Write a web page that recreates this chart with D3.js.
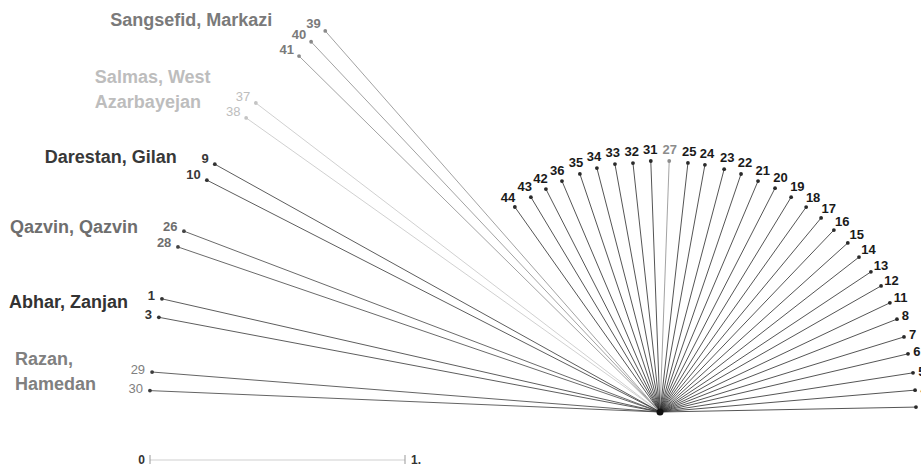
<!DOCTYPE html>
<html>
<head>
<meta charset="utf-8">
<script src="https://cdn.jsdelivr.net/npm/d3@7"></script>
<style>
  body { margin: 0; background: #fff; }
  svg { display: block; }
</style>
</head>
<body>
<div id="my_dataviz"></div>
<script>
// leaves of the tree, in the order they sit around the centre
var leafIds = [44, 43, 42, 36, 35, 34, 33, 32, 31, 27, 25, 24, 23, 22, 21, 20,
  19, 18, 17, 16, 15, 14, 13, 12, 11, 8, 7, 6, 5, 4, 2,
  39, 40, 41, 37, 38, 9, 10, 26, 28, 1, 3, 29, 30];

// direction of each branch, degrees clockwise from 12 o'clock
var leafAngles = [-35.3, -31.0, -27.1, -23.0, -18.6, -14.5, -10.3, -6.2, -2.1, 2.1,
  6.4, 10.3, 14.8, 18.8, 23.0, 27.2, 31.4, 35.5, 39.7, 43.7, 48.0, 52.1, 56.4,
  60.3, 64.6, 68.6, 72.9, 76.8, 81.2, 85.1, 88.9,
  -41.3, -43.3, -45.4, -52.6, -54.6, -60.9, -62.9, -69.2, -71.1, -77.2, -79.3,
  -85.5, -87.6];

// branch lengths (same units as the scale bar)
var branchLengths = [0.985, 0.983, 0.982, 0.984, 0.985, 0.988, 0.988, 0.982,
  0.985, 0.985, 0.983, 0.985, 0.985, 0.986, 0.984, 0.987, 0.987, 0.987, 0.989,
  0.987, 0.991, 0.989, 0.993, 0.998, 0.998, 0.998, 1.001, 0.999, 1.004, 1.004,
  1.004,
  1.989, 1.995, 1.988, 1.995, 1.991, 1.998, 1.996, 1.997, 1.998, 2.003, 2.000,
  1.998, 2.002];

// population labels and the leaves they belong to
var groupNames = [["Sangsefid, Markazi"], ["Salmas, West", "Azarbayejan"],
  ["Darestan, Gilan"], ["Qazvin, Qazvin"], ["Abhar, Zanjan"], ["Razan,", "Hamedan"]];
var groupLeaves = [[39, 40, 41], [37, 38], [9, 10], [26, 28], [1, 3], [29, 30]];

var scaleTicks = ["0", "1."];

var width = 921, height = 469;
var center = [660, 412];

var svg = d3.select("#my_dataviz")
  .append("svg")
    .attr("width", width)
    .attr("height", height);

var r = d3.scaleLinear().domain([0, 1]).range([0, 255]);

// look and feel of each group
var groupColor = ["#7a7a7a", "#bdbdbd", "#383838", "#6e6e6e", "#333333", "#808080"];
var groupLine = ["#8a8a8a", "#c4c4c4", "#333333", "#444444", "#333333", "#3c3c3c"];
var numWeight = ["bold", "normal", "bold", "bold", "bold", "normal"];
// label offsets relative to the first leaf tip of each group
var groupOffset = [[-53, -5, "end"], [-161, -20, "start"], [-38, -1, "end"],
  [-46, 2, "end"], [-34, 9, "end"], [-137, -7, "start"]];

var leaves = leafIds.map(function(id, i) {
  var g = groupLeaves.findIndex(function(l) { return l.indexOf(id) >= 0; });
  return { id: id, angle: leafAngles[i] * Math.PI / 180, deg: leafAngles[i],
    len: branchLengths[i], group: g };
});

function tip(d, extra) {
  var p = d3.pointRadial(d.angle, r(d.len) + (extra || 0));
  return [p[0] + center[0], p[1] + center[1]];
}
function lineColor(d) {
  if (d.group >= 0) return groupLine[d.group];
  return d.id == 27 ? "#8c8c8c" : "#2a2a2a";
}
function textColor(d) {
  if (d.group >= 0) return groupColor[d.group];
  return d.id == 27 ? "#8c8c8c" : "#1a1a1a";
}

// branches
svg.append("g")
  .selectAll("line")
  .data(leaves)
  .enter()
  .append("line")
    .attr("x1", center[0])
    .attr("y1", center[1])
    .attr("x2", function(d) { return tip(d)[0]; })
    .attr("y2", function(d) { return tip(d)[1]; })
    .attr("stroke", lineColor)
    .attr("stroke-width", 0.8);

// tip dots
svg.append("g")
  .selectAll("circle")
  .data(leaves)
  .enter()
  .append("circle")
    .attr("cx", function(d) { return tip(d)[0]; })
    .attr("cy", function(d) { return tip(d)[1]; })
    .attr("r", 1.9)
    .attr("fill", lineColor);

svg.append("circle")
  .attr("cx", center[0]).attr("cy", center[1])
  .attr("r", 3.5).attr("fill", "#111");

// leaf numbers
svg.append("g")
  .selectAll("text")
  .data(leaves)
  .enter()
  .append("text")
    .attr("font-family", "Liberation Sans, Arial, sans-serif")
    .attr("font-size", "13px")
    .attr("font-weight", function(d) { return d.group >= 0 ? numWeight[d.group] : "bold"; })
    .attr("fill", textColor)
    .attr("dy", "0.35em")
    .each(function(d) {
      var t = d3.select(this), p;
      if (d.group >= 0) {
        p = tip(d, 7);
        t.attr("x", p[0]).attr("y", p[1] - 2).attr("text-anchor", "end");
      } else {
        p = tip(d, 6 + 3 * String(d.id).length);
        t.attr("x", p[0]).attr("y", p[1]).attr("text-anchor", "middle");
      }
    })
    .text(function(d) { return d.id; });

// population names
groupNames.forEach(function(lines, gi) {
  var first = leaves.find(function(d) { return d.id == groupLeaves[gi][0]; });
  var p = tip(first);
  var off = groupOffset[gi];
  var t = svg.append("text")
    .attr("font-family", "Liberation Sans, Arial, sans-serif")
    .attr("font-size", "18px")
    .attr("font-weight", "bold")
    .attr("fill", groupColor[gi])
    .attr("text-anchor", off[2]);
  lines.forEach(function(s, li) {
    t.append("tspan")
      .attr("x", p[0] + off[0])
      .attr("y", p[1] + off[1] + li * 25)
      .text(s);
  });
});

// scale bar
var bar = svg.append("g").attr("transform", "translate(150,460)");
bar.append("line")
  .attr("x1", r(0)).attr("x2", r(1))
  .attr("stroke", "#cfcfcf").attr("stroke-width", 1);
bar.selectAll(".tick")
  .data([0, 1])
  .enter()
  .append("line")
    .attr("class", "tick")
    .attr("x1", function(d) { return r(d); })
    .attr("x2", function(d) { return r(d); })
    .attr("y1", -5).attr("y2", 4)
    .attr("stroke", "#999");
bar.selectAll(".lab")
  .data([0, 1])
  .enter()
  .append("text")
    .attr("class", "lab")
    .attr("x", function(d) { return d == 0 ? r(d) - 5 : r(d) + 6; })
    .attr("y", 4)
    .attr("text-anchor", function(d) { return d == 0 ? "end" : "start"; })
    .attr("font-family", "Liberation Sans, Arial, sans-serif")
    .attr("font-size", "12px")
    .attr("font-weight", "bold")
    .attr("fill", "#333")
    .text(function(d, i) { return scaleTicks[i]; });
</script>
</body>
</html>
